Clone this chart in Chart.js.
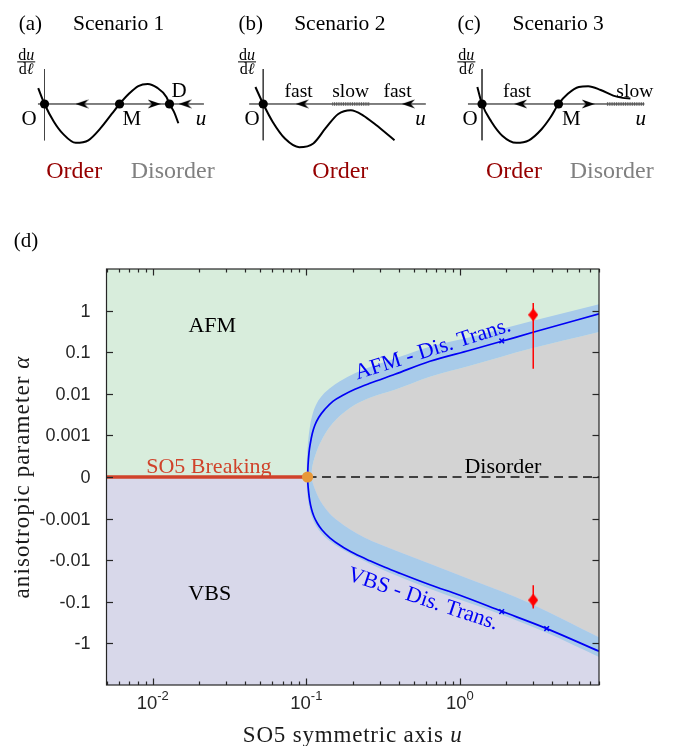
<!DOCTYPE html>
<html><head><meta charset="utf-8"><title>Phase diagram</title>
<script src="https://cdn.jsdelivr.net/npm/chart.js@4/dist/chart.umd.min.js"></script>
<style>
html,body{margin:0;padding:0;background:#ffffff;}
#wrap{position:relative;width:673px;height:746px;overflow:hidden;background:#fff;}
#wrap canvas{position:absolute;top:0;}
</style></head><body>
<div id="wrap">
<canvas id="chartD" width="673" height="746" style="left:0px"></canvas>
<canvas id="chartA" width="225" height="200" style="left:0px"></canvas>
<canvas id="chartB" width="225" height="200" style="left:225px"></canvas>
<canvas id="chartC" width="223" height="200" style="left:450px"></canvas>
</div>
<script>
const SERIF = "'Liberation Serif','Times New Roman',Times,serif";
const SANS = "'Liberation Sans',Arial,Helvetica,sans-serif";

// ================= panel (d) data =================
const uMin = 0.005, uMax = 8.04;
const xTickValues = [0.01, 0.1, 1];
const xTickExponents = ['-2', '-1', '0'];
const yTickValues = [1, 0.1, 0.01, 0.001, 0, -0.001, -0.01, -0.1, -1];
const yTickLabels = ['1', '0.1', '0.01', '0.001', '0', '-0.001', '-0.01', '-0.1', '-1'];
const multicriticalU = 0.1018;

// AFM - Disorder transition line
const afmLineU     = [0.10182, 0.10258, 0.10413, 0.10618, 0.10942, 0.11360, 0.12060, 0.13198, 0.14884, 0.17289, 0.20702, 0.25929, 0.37713, 0.63760, 1.1620, 1.8225, 2.9904, 8.04];
const afmLineAlpha = [0, 1.911e-4, 3.925e-4, 6.456e-4, 1.1232e-3, 1.749e-3, 2.724e-3, 4.240e-3, 6.602e-3, 9.204e-3, 0.012826, 0.017879, 0.029422, 0.060418, 0.11107, 0.17783, 0.30098, 0.83303];
// VBS - Disorder transition line
const vbsLineU     = [0.10182, 0.10228, 0.10351, 0.10539, 0.10811, 0.11191, 0.11793, 0.12618, 0.14219, 0.16955, 0.20702, 0.25929, 0.32456, 0.40652, 0.63760, 1.0, 1.8696, 3.6712, 8.04];
const vbsLineAlpha = [0, -1.417e-4, -2.332e-4, -3.839e-4, -5.976e-4, -8.805e-4, -1.297e-3, -1.859e-3, -2.893e-3, -4.632e-3, -7.017e-3, -0.010337, -0.014812, -0.020646, -0.039029, -0.069778, -0.16924, -0.44078, -1.5480];
// uncertainty bands
const afmBandOuterU     = [0.1000, 0.10060, 0.10166, 0.10319, 0.10587, 0.11024, 0.11704, 0.12808, 0.14219, 0.16526, 0.20702, 0.27940, 0.40652, 0.63760, 1.1620, 2.9904, 8.04];
const afmBandOuterAlpha = [0, 2.135e-4, 4.383e-4, 8.517e-4, 1.749e-3, 3.399e-3, 5.909e-3, 9.462e-3, 0.013556, 0.019975, 0.031107, 0.048428, 0.077505, 0.13484, 0.22817, 0.56851, 1.4172];
const afmBandInnerU     = [0.1000, 0.10779, 0.10860, 0.11057, 0.11360, 0.11882, 0.12523, 0.13198, 0.14219, 0.15799, 0.17815, 0.20702, 0.25929, 0.37713, 0.63760, 1.1620, 2.8580, 8.04];
const afmBandInnerAlpha = [0, 0, 1.449e-4, 2.135e-4, 3.059e-4, 4.896e-4, 7.417e-4, 1.0627e-3, 1.6098e-3, 2.507e-3, 3.693e-3, 5.439e-3, 8.012e-3, 0.012481, 0.025624, 0.047106, 0.12070, 0.30590];
const vbsBandInnerU     = [0.1000, 0.10779, 0.11024, 0.11446, 0.12060, 0.13001, 0.14219, 0.16037, 0.19201, 0.24041, 0.37713, 0.63760, 1.0507, 1.8225, 2.8580, 8.04];
const vbsBandInnerAlpha = [0, 0, -1.417e-4, -2.088e-4, -3.251e-4, -5.062e-4, -7.667e-4, -1.1294e-3, -1.808e-3, -2.893e-3, -5.781e-3, -0.012206, -0.025068, -0.054383, -0.10866, -0.71370];
const vbsBandOuterU     = [0.1000, 0.10045, 0.10136, 0.10289, 0.10523, 0.10860, 0.11360, 0.12151, 0.13599, 0.16037, 0.20702, 0.32456, 0.63760, 1.8696, 3.6712, 8.04];
const vbsBandOuterAlpha = [0, -1.417e-4, -2.332e-4, -3.839e-4, -5.976e-4, -9.051e-4, -1.334e-3, -1.965e-3, -3.059e-3, -4.762e-3, -8.057e-3, -0.017978, -0.048697, -0.20535, -0.55606, -2.1232];
// crosses on the transition lines
const crossU     = [1.87, 1.87, 3.67];
const crossAlpha = [0.186, -0.172, -0.44];
// red data points with error bars
const qmcU      = [3.0, 3.0];
const qmcAlpha  = [0.79, -0.091];
const qmcLow    = [0.04, -0.145];
const qmcHigh   = [1.52, -0.04];

// ================= panels (a)-(c) data =================
const scen1U = [-0.084, 0, 0.125, 0.25, 0.416, 0.584, 0.75, 0.896, 1, 1.125, 1.25, 1.375, 1.5, 1.625, 1.666, 1.729, 1.784];
const scen1V = [0.395, 0, -0.442, -0.753, -0.970, -0.907, -0.598, -0.249, 0, 0.256, 0.449, 0.502, 0.409, 0.177, 0, -0.209, -0.481];
const scen1FixedU = [0, 1, 1.666];
const scen1ArrowU = [0.5, 1.4625, 1.875];
const scen1ArrowDir = ['left', 'right', 'left'];

const scen2U = [-0.104, 0, 0.125, 0.2925, 0.48, 0.6675, 0.834, 1.0, 1.1675, 1.334, 1.5, 1.75];
const scen2V = [0.426, 0, -0.442, -0.870, -1.079, -0.986, -0.598, -0.249, -0.156, -0.288, -0.521, -0.907];
const scen2FixedU = [0];
const scen2ArrowU = [0.52, 1.934];
const scen2ArrowDir = ['left', 'left'];
const scen2SlowU = [0.92, 1.42];

const scen3U = [-0.0625, 0, 0.125, 0.27, 0.4575, 0.625, 0.791, 0.916, 1.02, 1.145, 1.291, 1.416, 1.5825, 1.75, 1.875, 1.979];
const scen3V = [0.426, 0, -0.442, -0.791, -0.970, -0.907, -0.637, -0.326, 0, 0.256, 0.426, 0.442, 0.349, 0.209, 0.153, 0.140];
const scen3FixedU = [0, 1.02];
const scen3ArrowU = [0.516, 1.416];
const scen3ArrowDir = ['left', 'right'];
const scen3SlowU = [1.666, 2.166];

// ================= helpers =================
function symAxis(a) {
  if (a === 0) return 0;
  return Math.sign(a) * Math.max(0, Math.log10(Math.abs(a)) + 4);
}
const pts = (us, as) => us.map((u, i) => ({x: u, y: symAxis(as[i])}));
const xy = (us, vs) => us.map((u, i) => ({x: u, y: vs[i]}));

function runsWidth(ctx, runs, sp) {
  let w = 0;
  runs.forEach(r => { ctx.font = r[1]; w += ctx.measureText(r[0]).width; });
  return w;
}
function drawRuns(ctx, runs, cx, y, sp) {
  sp = sp || 0;
  let w = 0;
  runs.forEach(r => { ctx.font = r[1]; for (const ch of r[0]) w += ctx.measureText(ch).width + sp; });
  let x = cx - w / 2;
  ctx.textAlign = 'left';
  runs.forEach(r => {
    ctx.font = r[1];
    if (!sp) { ctx.fillText(r[0], x, y); x += ctx.measureText(r[0]).width; }
    else { for (const ch of r[0]) { ctx.fillText(ch, x, y); x += ctx.measureText(ch).width + sp; } }
  });
  return w;
}

const COL = {
  afm: '#d8eddc', vbs: '#d8d8ea', dis: '#d3d3d3', band: '#a8cbe9',
  line: '#0000f5', so5: '#d0432b', dot: '#e8993a', qmc: '#ff0000', axis: '#262626'
};

function makeArrow() {
  const c = document.createElement('canvas'); c.width = 13; c.height = 10;
  const g = c.getContext('2d'); g.fillStyle = '#000'; g.beginPath();
  g.moveTo(13, 5); g.lineTo(0, 0.5); g.lineTo(4, 5); g.lineTo(0, 9.5); g.closePath(); g.fill();
  return c;
}
function makeDiamond() {
  const c = document.createElement('canvas'); c.width = 10; c.height = 13;
  const g = c.getContext('2d'); g.fillStyle = COL.qmc; g.beginPath();
  g.moveTo(5, 0); g.lineTo(10, 6.5); g.lineTo(5, 13); g.lineTo(0, 6.5); g.closePath(); g.fill();
  return c;
}
const ARROW = makeArrow();
const DIAMOND = makeDiamond();

// ================= panel (d) =================
const R22 = '22px ' + SERIF;
const phaseLabels = [
  {text: 'AFM', u: 0.0244, a: 0.30, color: '#000'},
  {text: 'VBS', u: 0.0235, a: -0.092, color: '#000'},
  {text: 'SO5 Breaking', u: 0.0232, a: 1.23e-4, color: COL.so5},
  {text: 'Disorder', u: 1.905, a: 1.23e-4, color: '#000'},
  {text: 'AFM - Dis. Trans.', u: 0.667, a: 0.116, color: COL.line, rot: -17.5},
  {text: 'VBS - Dis. Trans.', u: 0.574, a: -0.0871, color: COL.line, rot: 18.5}
];

const mainDecor = {
  id: 'mainDecor',
  afterDatasetsDraw(chart) {
    const {ctx, scales: {x, y}} = chart;
    ctx.save();
    phaseLabels.forEach(l => {
      const px = x.getPixelForValue(l.u), py = y.getPixelForValue(symAxis(l.a));
      ctx.fillStyle = l.color; ctx.font = R22; ctx.textAlign = 'center';
      if (l.rot) {
        ctx.save(); ctx.translate(px, py); ctx.rotate(l.rot * Math.PI / 180);
        ctx.textBaseline = 'middle'; ctx.fillText(l.text, 0, 0); ctx.restore();
      } else {
        ctx.textBaseline = 'alphabetic'; ctx.fillText(l.text, px, py);
      }
    });
    ctx.restore();
  },
  afterDraw(chart) {
    const {ctx, chartArea: a, scales: {x, y}} = chart;
    ctx.save();
    ctx.strokeStyle = COL.axis; ctx.lineWidth = 1.2;
    const seg = (x0, y0, x1, y1) => { ctx.beginPath(); ctx.moveTo(x0, y0); ctx.lineTo(x1, y1); ctx.stroke(); };
    for (let d = -3; d <= 1; d++) {
      for (let m = 1; m <= 9; m++) {
        const v = m * Math.pow(10, d);
        if (v < uMin || v > uMax) continue;
        const px = Math.round(x.getPixelForValue(v)) + 0.5;
        const L = m === 1 ? 6.5 : 3.5;
        seg(px, a.bottom, px, a.bottom - L);
        seg(px, a.top, px, a.top + L);
      }
    }
    yTickValues.forEach(v => {
      const py = Math.round(y.getPixelForValue(symAxis(v))) + 0.5;
      seg(a.left, py, a.left + 6.5, py);
      seg(a.right, py, a.right - 6.5, py);
    });
    ctx.strokeRect(a.left, a.top, a.right - a.left, a.bottom - a.top);
    ctx.fillStyle = COL.axis;
    ctx.textBaseline = 'middle'; ctx.textAlign = 'right'; ctx.font = '18px ' + SANS;
    yTickValues.forEach((v, i) => {
      ctx.fillText(yTickLabels[i], a.left - 16, y.getPixelForValue(symAxis(v)) + 1);
    });
    ctx.textBaseline = 'alphabetic';
    xTickValues.forEach((v, i) => {
      const px = x.getPixelForValue(v);
      ctx.font = '18.5px ' + SANS; const w1 = ctx.measureText('10').width;
      ctx.font = '13px ' + SANS; const w2 = ctx.measureText(xTickExponents[i]).width;
      const left = px - (w1 + w2) / 2;
      ctx.textAlign = 'left';
      ctx.font = '18.5px ' + SANS; ctx.fillText('10', left, a.bottom + 23.5);
      ctx.font = '13px ' + SANS; ctx.fillText(xTickExponents[i], left + w1, a.bottom + 15);
    });
    ctx.fillStyle = '#1a1a1a';
    ctx.textBaseline = 'alphabetic';
    drawRuns(ctx, [['SO5 symmetric axis ', '23px ' + SERIF], ['u', 'italic 23px ' + SERIF]], (a.left + a.right) / 2, a.bottom + 57, 0.8);
    ctx.save();
    ctx.translate(a.left - 78, (a.top + a.bottom) / 2);
    ctx.rotate(-Math.PI / 2);
    drawRuns(ctx, [['anisotropic parameter ', '23px ' + SERIF], ['α', 'italic 23px ' + SERIF]], 0, 0, 1.1);
    ctx.restore();
    ctx.fillStyle = '#000'; ctx.textAlign = 'center'; ctx.font = '21px ' + SERIF;
    ctx.fillText('(d)', 26, 247);
    ctx.restore();
  }
};

const hidden = {borderWidth: 0, borderColor: 'rgba(0,0,0,0)', pointRadius: 0};
const mono = {cubicInterpolationMode: 'monotone'};
const zeroLine = [{x: uMin, y: 0}, {x: uMax, y: 0}];

new Chart(document.getElementById('chartD'), {
  type: 'line',
  data: {datasets: [
    {...hidden, data: zeroLine, fill: 'end', backgroundColor: COL.afm, order: 40},
    {...hidden, data: zeroLine, fill: 'start', backgroundColor: COL.vbs, order: 40},
    {...hidden, ...mono, data: pts(afmBandInnerU, afmBandInnerAlpha), fill: 3, backgroundColor: COL.dis, order: 30},
    {...hidden, ...mono, data: pts(vbsBandInnerU, vbsBandInnerAlpha), fill: 5, backgroundColor: COL.band, order: 20},
    {...hidden, ...mono, data: pts(afmBandOuterU, afmBandOuterAlpha), fill: 2, backgroundColor: COL.band, order: 20},
    {...hidden, ...mono, data: pts(vbsBandOuterU, vbsBandOuterAlpha), fill: false, order: 20},
    {data: [{x: multicriticalU, y: 0}, {x: uMax, y: 0}], borderColor: '#111', borderWidth: 1.5, borderDash: [9, 5.5], pointRadius: 0, fill: false, order: 10},
    {data: [{x: uMin, y: 0}, {x: multicriticalU, y: 0}], borderColor: COL.so5, borderWidth: 3.5, pointRadius: 0, fill: false, order: 9},
    {...mono, data: pts(afmLineU, afmLineAlpha), borderColor: COL.line, borderWidth: 1.7, pointRadius: 0, fill: false, order: 8},
    {...mono, data: pts(vbsLineU, vbsLineAlpha), borderColor: COL.line, borderWidth: 1.7, pointRadius: 0, fill: false, order: 8},
    {data: pts(crossU, crossAlpha), showLine: false, pointStyle: 'crossRot', pointRadius: 3.3, pointBorderColor: COL.line, pointBorderWidth: 1.5, order: 6},
    {data: pts([qmcU[0], qmcU[0]], [qmcLow[0], qmcHigh[0]]), borderColor: COL.qmc, borderWidth: 1.5, pointRadius: 0, fill: false, order: 5},
    {data: pts([qmcU[1], qmcU[1]], [qmcLow[1], qmcHigh[1]]), borderColor: COL.qmc, borderWidth: 1.5, pointRadius: 0, fill: false, order: 5},
    {data: pts(qmcU, qmcAlpha), showLine: false, pointStyle: DIAMOND, pointRadius: 5, order: 4},
    {data: [{x: multicriticalU, y: 0}], showLine: false, pointStyle: 'circle', pointRadius: 5.6, pointBackgroundColor: COL.dot, pointBorderWidth: 0, order: 3}
  ]},
  options: {
    responsive: false, animation: false, events: [],
    layout: {padding: {left: 106.5, right: 74, top: 269, bottom: 61}},
    plugins: {legend: {display: false}, tooltip: {enabled: false}},
    elements: {point: {radius: 0}},
    scales: {
      x: {type: 'logarithmic', min: uMin, max: uMax, display: false},
      y: {type: 'linear', min: -5, max: 5, display: false}
    }
  },
  plugins: [mainDecor]
});

// ================= panels (a)-(c) =================
const R21 = '21px ' + SERIF, I21 = 'italic 21px ' + SERIF, R19 = '19.5px ' + SERIF;
const R16 = '16px ' + SERIF, I16 = 'italic 16px ' + SERIF, R24 = '24px ' + SERIF;
const ORDER = '#960000', DISORDER = '#808080';

function panelLabels(tag, title, fracU, extra) {
  return [
    {runs: [[tag, R21]], u: extra.tagU, v: 1.844},
    {runs: [[title, '21.5px ' + SERIF]], u: extra.titleU, v: 1.844},
    {frac: true, u: fracU, num: [['d', R16], ['u', I16]], den: [['d', R16], ['\u2113', I16]], numV: 1.112, barV: 1.053, denV: 0.740}
  ].concat(extra.items);
}

const panelAText = panelLabels('(a)', 'Scenario 1', -0.244, {tagU: -0.1875, titleU: 0.9875, items: [
  {runs: [['O', R21]], u: -0.206, v: -0.528},
  {runs: [['M', R21]], u: 1.1625, v: -0.528},
  {runs: [['D', R21]], u: 1.794, v: 0.17},
  {runs: [['u', I21]], u: 2.0875, v: -0.528},
  {runs: [['Order', R24]], u: 0.396, v: -1.86, color: ORDER},
  {runs: [['Disorder', R24]], u: 1.709, v: -1.86, color: DISORDER}
]});
const panelBText = panelLabels('(b)', 'Scenario 2', -0.216, {tagU: -0.166, titleU: 1.021, items: [
  {runs: [['O', R21]], u: -0.1475, v: -0.528},
  {runs: [['u', I21]], u: 2.096, v: -0.528},
  {runs: [['fast', R19]], u: 0.471, v: 0.177},
  {runs: [['slow', R19]], u: 1.165, v: 0.177},
  {runs: [['fast', R19]], u: 1.79, v: 0.177},
  {runs: [['Order', R24]], u: 1.0275, v: -1.86, color: ORDER}
]});
const panelCText = panelLabels('(c)', 'Scenario 3', -0.209, {tagU: -0.171, titleU: 1.016, items: [
  {runs: [['O', R21]], u: -0.159, v: -0.528},
  {runs: [['M', R21]], u: 1.191, v: -0.528},
  {runs: [['u', I21]], u: 2.116, v: -0.528},
  {runs: [['fast', R19]], u: 0.466, v: 0.177},
  {runs: [['slow', R19]], u: 2.0375, v: 0.177},
  {runs: [['Order', R24]], u: 0.426, v: -1.86, color: ORDER},
  {runs: [['Disorder', R24]], u: 1.729, v: -1.86, color: DISORDER}
]});

function panelTextPlugin(labels) {
  return {
    id: 'panelText',
    afterDraw(chart) {
      const {ctx, scales: {x, y}} = chart;
      ctx.save(); ctx.textBaseline = 'alphabetic';
      labels.forEach(l => {
        ctx.fillStyle = l.color || '#000';
        const px = x.getPixelForValue(l.u);
        if (l.frac) {
          drawRuns(ctx, l.num, px, y.getPixelForValue(l.numV));
          drawRuns(ctx, l.den, px, y.getPixelForValue(l.denV));
          const w = Math.max(runsWidth(ctx, l.num), runsWidth(ctx, l.den)) + 2;
          const by = y.getPixelForValue(l.barV);
          ctx.strokeStyle = '#000'; ctx.lineWidth = 1;
          ctx.beginPath(); ctx.moveTo(px - w / 2, by); ctx.lineTo(px + w / 2, by); ctx.stroke();
        } else {
          drawRuns(ctx, l.runs, px, y.getPixelForValue(l.v));
        }
      });
      ctx.restore();
    }
  };
}

function panelChart(id, cfg) {
  const ds = [
    {data: [{x: cfg.hAxis[0], y: 0}, {x: cfg.hAxis[1], y: 0}], borderColor: '#000', borderWidth: 1, pointRadius: 0, order: 9},
    {data: [{x: 0, y: 0.874}, {x: 0, y: -0.907}], borderColor: '#444', borderWidth: 1, pointRadius: 0, order: 9}
  ];
  if (cfg.slow) ds.push({data: [{x: cfg.slow[0], y: 0}, {x: cfg.slow[1], y: 0}], borderColor: '#555', borderWidth: 3.5, borderDash: [1, 0.8], pointRadius: 0, order: 8});
  ds.push({...mono, data: xy(cfg.curveU, cfg.curveV), borderColor: '#000', borderWidth: 2, pointRadius: 0, order: 7});
  ds.push({data: cfg.fixedU.map(u => ({x: u, y: 0})), showLine: false, pointStyle: 'circle', pointRadius: 4.6, pointBackgroundColor: '#000', pointBorderWidth: 0, order: 6});
  ds.push({data: cfg.arrowU.map(u => ({x: u, y: 0})), showLine: false, pointStyle: ARROW, pointRadius: 6,
           pointRotation: cfg.arrowDir.map(d => d === 'left' ? 180 : 0), order: 5});
  return new Chart(document.getElementById(id), {
    type: 'line',
    data: {datasets: ds},
    options: {
      responsive: false, animation: false, events: [],
      layout: {padding: 0},
      plugins: {legend: {display: false}, tooltip: {enabled: false}},
      elements: {point: {radius: 0}},
      scales: {
        x: {type: 'linear', min: cfg.xMin, max: cfg.xMin + cfg.width / 80, display: false},
        y: {type: 'linear', min: (104.3 - 200) / 43, max: 104.3 / 43, display: false}
      }
    },
    plugins: [panelTextPlugin(cfg.labels)]
  });
}

panelChart('chartA', {xMin: -0.5, width: 225, hAxis: [-0.0875, 2.125], curveU: scen1U, curveV: scen1V,
  fixedU: scen1FixedU, arrowU: scen1ArrowU, arrowDir: scen1ArrowDir, labels: panelAText});
panelChart('chartB', {xMin: -0.41625, width: 225, hAxis: [-0.1875, 2.1675], curveU: scen2U, curveV: scen2V,
  fixedU: scen2FixedU, arrowU: scen2ArrowU, arrowDir: scen2ArrowDir, slow: scen2SlowU, labels: panelBText});
panelChart('chartC', {xMin: -0.33375, width: 223, hAxis: [-0.1875, 2.166], curveU: scen3U, curveV: scen3V,
  fixedU: scen3FixedU, arrowU: scen3ArrowU, arrowDir: scen3ArrowDir, slow: scen3SlowU, labels: panelCText});
</script>
</body></html>
